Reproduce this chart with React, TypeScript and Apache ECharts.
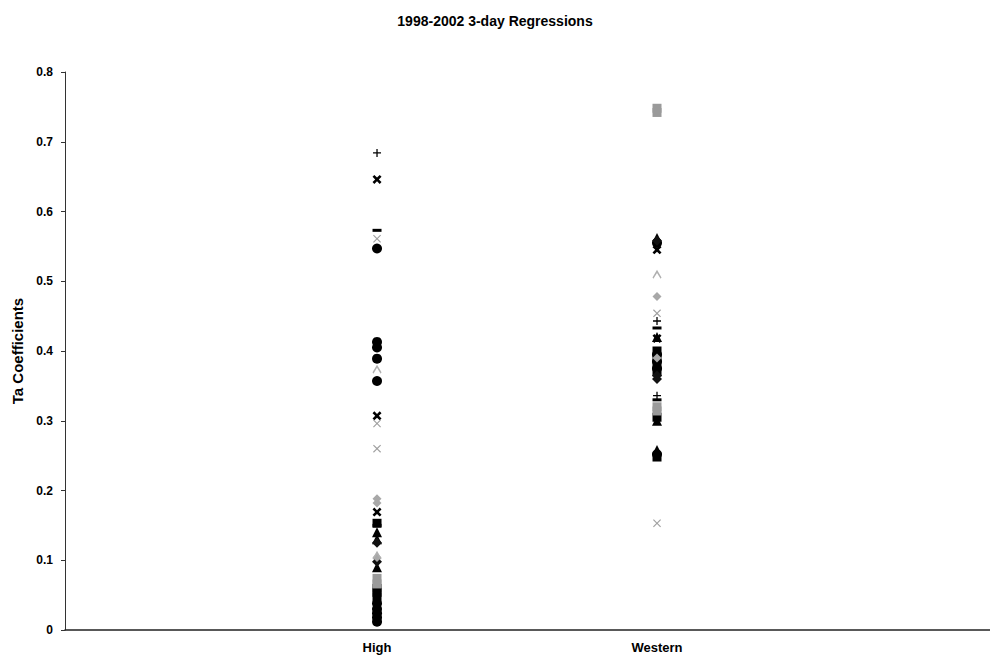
import React, { useEffect, useRef } from "react";
import * as echarts from "echarts";

const categories = ["High", "Western"];
const yTicks = [0, 0.1, 0.2, 0.3, 0.4, 0.5, 0.6, 0.7, 0.8];

// Each series: values at "High" and values at "Western"
const blackCircleHigh = [0.547, 0.413, 0.405, 0.389, 0.357, 0.038, 0.03, 0.024, 0.018, 0.012];
const blackCircleWestern = [0.555, 0.395, 0.385, 0.375, 0.252];
const blackSquareHigh = [0.153, 0.06, 0.054, 0.047];
const blackSquareWestern = [0.4, 0.39, 0.38, 0.37, 0.305, 0.248];
const blackTriangleHigh = [0.14, 0.13, 0.09];
const blackTriangleWestern = [0.562, 0.42, 0.3, 0.258];
const blackDiamondHigh = [0.125, 0.098];
const blackDiamondWestern = [0.558, 0.365, 0.36];
const blackCrossHigh = [0.646, 0.307, 0.169];
const blackCrossWestern = [0.545, 0.418];
const blackPlusHigh = [0.684];
const blackPlusWestern = [0.443, 0.336];
const blackDashHigh = [0.573, 0.15];
const blackDashWestern = [0.433, 0.33];
const graySquareHigh = [0.074, 0.066];
const graySquareWestern = [0.748, 0.742, 0.32, 0.314];
const grayDiamondHigh = [0.188, 0.182, 0.104];
const grayDiamondWestern = [0.478, 0.39];
const grayTriangleHigh = [0.374, 0.107];
const grayTriangleWestern = [0.51];
const grayCrossHigh = [0.561, 0.296, 0.26];
const grayCrossWestern = [0.454, 0.153];

const crossPath =
  "path://M0,1 L1,0 L5,4 L9,0 L10,1 L6,5 L10,9 L9,10 L5,6 L1,10 L0,9 L4,5 Z";
const boldCrossPath =
  "path://M0,2 L2,0 L5,3 L8,0 L10,2 L7,5 L10,8 L8,10 L5,7 L2,10 L0,8 L3,5 Z";
const plusPath = "path://M4.2,0H5.8V4.2H10V5.8H5.8V10H4.2V5.8H0V4.2H4.2Z";
const chevronPath = "path://M0,8 L5,2 L10,8 L9,9 L5,4.5 L1,9 Z";

const seriesDefs = [
  { name: "s1", high: blackCircleHigh, western: blackCircleWestern, symbol: "circle", size: 10, color: "#000" },
  { name: "s2", high: blackSquareHigh, western: blackSquareWestern, symbol: "rect", size: 9, color: "#000" },
  { name: "s3", high: blackTriangleHigh, western: blackTriangleWestern, symbol: "triangle", size: 10, color: "#000" },
  { name: "s4", high: blackDiamondHigh, western: blackDiamondWestern, symbol: "diamond", size: 10, color: "#111" },
  { name: "s5", high: blackCrossHigh, western: blackCrossWestern, symbol: boldCrossPath, size: 9, color: "#000" },
  { name: "s6", high: blackPlusHigh, western: blackPlusWestern, symbol: plusPath, size: 8, color: "#000" },
  { name: "s7", high: blackDashHigh, western: blackDashWestern, symbol: "rect", size: [9, 3], color: "#000" },
  { name: "s8", high: graySquareHigh, western: graySquareWestern, symbol: "rect", size: 9, color: "#9a9a9a" },
  { name: "s9", high: grayDiamondHigh, western: grayDiamondWestern, symbol: "diamond", size: 9, color: "#a8a8a8" },
  { name: "s10", high: grayTriangleHigh, western: grayTriangleWestern, symbol: chevronPath, size: 9, color: "#b0b0b0" },
  { name: "s11", high: grayCrossHigh, western: grayCrossWestern, symbol: crossPath, size: 8, color: "#a0a0a0" },
];

export default function App() {
  const ref = useRef<HTMLDivElement>(null);
  useEffect(() => {
    if (!ref.current) return;
    const chart = echarts.init(ref.current, null, { renderer: "svg" });
    const font = "'Liberation Sans', Arial, sans-serif";
    const series = seriesDefs.map((d) => ({
      name: d.name,
      type: "scatter",
      symbol: d.symbol,
      symbolSize: d.size,
      itemStyle: { color: d.color, opacity: 1 },
      data: [
        ...d.high.map((v) => [0, v]),
        ...d.western.map((v) => [1, v]),
      ],
    }));
    chart.setOption({
      animation: false,
      backgroundColor: "#fff",
      title: {
        text: "1998-2002 3-day Regressions",
        left: "center",
        top: 9,
        textStyle: { fontFamily: font, fontWeight: "bold", fontSize: 14, color: "#000" },
      },
      grid: { left: 65, right: 0, top: 72, bottom: 30 },
      xAxis: {
        type: "value",
        min: -1.1144,
        max: 2.1893,
        splitLine: { show: false },
        axisLine: { show: true, onZero: false, lineStyle: { color: "#222", width: 1.5 } },
        axisTick: { show: false },
        axisLabel: {
          customValues: [0, 1],
          formatter: (v: number) => categories[Math.round(v)] ?? "",
          fontFamily: font,
          fontWeight: "bold",
          fontSize: 13,
          color: "#000",
          margin: 11,
        },
      },
      yAxis: {
        type: "value",
        min: 0,
        max: 0.8,
        interval: 0.1,
        name: "Ta Coefficients",
        nameLocation: "middle",
        nameGap: 40,
        nameRotate: 90,
        nameTextStyle: { fontFamily: font, fontWeight: "bold", fontSize: 15, color: "#000" },
        splitLine: { show: false },
        axisLine: { show: true, onZero: false, lineStyle: { color: "#333", width: 1 } },
        axisTick: { show: true, length: 4, lineStyle: { color: "#333" } },
        axisLabel: {
          customValues: yTicks,
          formatter: (v: number) => (v === 0 ? "0" : v.toFixed(1)),
          fontFamily: font,
          fontWeight: "bold",
          fontSize: 12,
          color: "#000",
          margin: 12,
        },
      },
      series,
    });
    return () => chart.dispose();
  }, []);
  return <div ref={ref} style={{ width: 990, height: 660, position: "absolute", left: 0, top: 0 }} />;
}
